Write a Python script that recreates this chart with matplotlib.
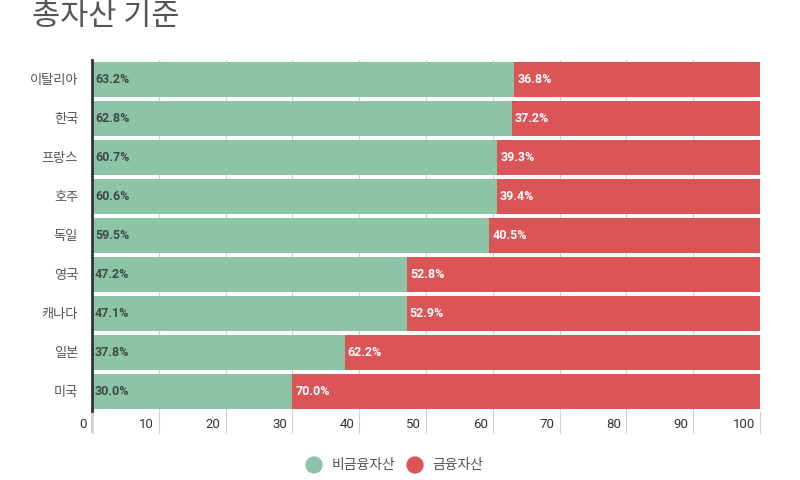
import matplotlib
matplotlib.use("Agg")
import matplotlib.pyplot as plt
import matplotlib.transforms as mtransforms
import numpy as np

countries = ["이탈리아", "한국", "프랑스", "호주", "독일", "영국", "캐나다", "일본", "미국"]
non_financial = [63.2, 62.8, 60.7, 60.6, 59.5, 47.2, 47.1, 37.8, 30.0]
financial = [36.8, 37.2, 39.3, 39.4, 40.5, 52.8, 52.9, 62.2, 70.0]
x_ticks = [0, 10, 20, 30, 40, 50, 60, 70, 80, 90, 100]
series_names = ["비금융자산", "금융자산"]

green = "#8dc3a7"
red = "#db5456"
kr_font = ["Noto Sans CJK KR", "DejaVu Sans"]
num_font = ["Roboto", "DejaVu Sans"]

plt.rcParams["font.family"] = kr_font

fig = plt.figure(figsize=(8, 4.8), dpi=100)
ax = fig.add_axes([0.115, 0.144, 0.835, 0.731])

y = np.arange(len(countries))
ax.barh(y, non_financial, height=0.9, color=green, zorder=2)
ax.barh(y, financial, left=non_financial, height=0.9, color=red, zorder=2)

# value labels
off = mtransforms.offset_copy(ax.transData, fig=fig, x=3, y=0, units="dots")
for i in range(len(countries)):
    ax.text(0, i, f"{non_financial[i]:.1f}%", transform=off, ha="left", va="center",
            fontsize=9, fontweight="bold", color="#3d4a44", family=num_font, zorder=3)
    ax.text(non_financial[i], i, f"{financial[i]:.1f}%", transform=off, ha="left", va="center",
            fontsize=9, fontweight="bold", color="white", family=num_font, zorder=3)

ax.set_ylim(len(countries) - 0.5, -0.5)
ax.set_xlim(0, 100)
ax.set_yticks(y)
ax.set_yticklabels(countries, fontsize=9.5, color="#555555")
ax.tick_params(axis="y", length=0, pad=10)

# x grid, extending below the axes like the reference
ax.set_xticks(x_ticks)
ax.set_xticklabels([])
ax.tick_params(axis="x", length=16, width=0.8, color="#d0d0d0", direction="out")
ax.xaxis.get_major_ticks()[0].tick1line.set_color("#333333")
ax.xaxis.get_major_ticks()[0].tick1line.set_markeredgewidth(2)
ax.grid(axis="x", color="#d0d0d0", linewidth=0.8, zorder=0)
for v in x_ticks:
    t = mtransforms.offset_copy(ax.get_xaxis_transform(), fig=fig, x=-5, y=-14, units="dots")
    ax.text(v, 0, str(v), transform=t, ha="right", va="center", fontsize=9.5,
            color="#333333", family=num_font)

for s in ["top", "right", "bottom"]:
    ax.spines[s].set_visible(False)
ax.spines["left"].set_color("#333333")
ax.spines["left"].set_linewidth(2)
ax.spines["left"].set_zorder(4)

fig.text(0.04, 0.965, "총자산 기준", fontsize=22, fontweight="light", color="#555555",
         ha="left", va="center")

# legend
ax_leg = fig.add_axes([0, 0, 1, 1], facecolor="none")
ax_leg.set_xlim(0, 800)
ax_leg.set_ylim(480, 0)
ax_leg.axis("off")
ax_leg.scatter([314, 415], [465, 465], s=130, color=[green, red])
ax_leg.text(332, 465, series_names[0], ha="left", va="center", fontsize=10, color="#555555")
ax_leg.text(432, 465, series_names[1], ha="left", va="center", fontsize=10, color="#555555")

fig.savefig("out.png", dpi=100, facecolor="white")
